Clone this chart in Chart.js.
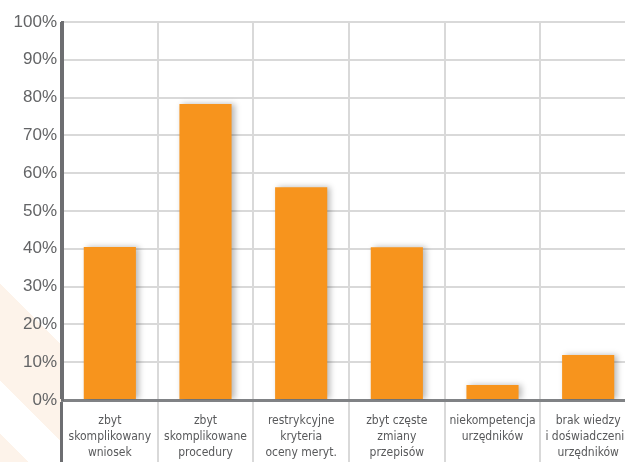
<!DOCTYPE html>
<html>
<head>
<meta charset="utf-8">
<script src="https://cdn.jsdelivr.net/npm/chart.js@4.4.0/dist/chart.umd.min.js"></script>
<style>
  html, body { margin: 0; padding: 0; background: #fff; overflow: hidden; width: 625px; height: 462px; }
  #wrap { position: relative; width: 636px; height: 462px; }
  #deco {
    position: absolute; left: 0; top: 0; width: 62px; height: 462px;
    background: linear-gradient(45deg, #fdf3ea 0%, #fdf3ea 5.5%, #fff 5.5%, #fff 15.6%, #fdf3ea 15.6%, #fdf3ea 34%, #fff 34%);
  }
  #chart { position: absolute; left: 0; top: 0; }
</style>
</head>
<body>
<div id="wrap">
  <div id="deco"></div>
  <canvas id="chart" width="636" height="462"></canvas>
</div>
<script>
// dane
const categories = [
    ['zbyt', 'skomplikowany', 'wniosek'],
    ['zbyt', 'skomplikowane', 'procedury'],
    ['restrykcyjne', 'kryteria', 'oceny meryt.'],
    ['zbyt częste', 'zmiany', 'przepisów'],
    ['niekompetencja', 'urzędników'],
    ['brak wiedzy', 'i doświadczenia', 'urzędników']
];
const values = [40.5, 78.3, 56.3, 40.4, 4.0, 11.9];
const yTicks = [0, 10, 20, 30, 40, 50, 60, 70, 80, 90, 100];

// białe tło pod obszarem wykresu i etykietami
const whiteArea = {
    id: 'whiteArea',
    beforeDraw(chart) {
        const { ctx, chartArea } = chart;
        ctx.save();
        ctx.fillStyle = '#fff';
        ctx.fillRect(chartArea.left, 0, chart.width - chartArea.left, chart.height);
        ctx.restore();
    }
};

// cień słupków
const barShadow = {
    id: 'barShadow',
    beforeDatasetDraw(chart) {
        const ctx = chart.ctx;
        ctx.save();
        ctx.shadowColor = 'rgba(0,0,0,0.28)';
        ctx.shadowBlur = 6;
        ctx.shadowOffsetX = 3;
        ctx.shadowOffsetY = 0;
    },
    afterDatasetDraw(chart) {
        chart.ctx.restore();
    }
};

new Chart(document.getElementById('chart'), {
    type: 'bar',
    data: {
        labels: categories,
        datasets: [{
            data: values,
            backgroundColor: '#f7941d',
            borderWidth: 0,
            barPercentage: 0.545,
            categoryPercentage: 1
        }]
    },
    options: {
        responsive: false,
        animation: false,
        devicePixelRatio: 1,
        layout: { padding: { top: 22, left: 0, right: 0, bottom: 0 } },
        plugins: {
            legend: { display: false },
            tooltip: { enabled: false }
        },
        scales: {
            x: {
                offset: true,
                grid: {
                    offset: true,
                    color: ctx => ctx.index === 0 ? '#6d6e71' : '#d9d9d9',
                    lineWidth: ctx => ctx.index === 0 ? 3 : 2,
                    drawTicks: true,
                    tickLength: 62
                },
                border: { display: true, color: '#808285', width: 3 },
                ticks: {
                    color: '#58595b',
                    padding: -49,
                    maxRotation: 0,
                    autoSkip: false,
                    font: { family: '"Liberation Sans Narrow", "DejaVu Sans Condensed", "Liberation Sans", sans-serif', size: 12, lineHeight: 16 / 12 }
                },
                afterFit(scale) { scale.height = 62; }
            },
            y: {
                min: 0,
                max: 100,
                afterBuildTicks(scale) { scale.ticks = yTicks.map(v => ({ value: v })); },
                grid: { color: '#d9d9d9', lineWidth: 2, drawTicks: false },
                border: { display: true, color: '#6d6e71', width: 3 },
                ticks: {
                    color: '#636466',
                    padding: 5,
                    font: { family: '"Liberation Sans", Arial, sans-serif', size: 17 },
                    callback: v => v + '%'
                },
                afterFit(scale) { scale.width = 62; }
            }
        }
    },
    plugins: [whiteArea, barShadow]
});
</script>
</body>
</html>
